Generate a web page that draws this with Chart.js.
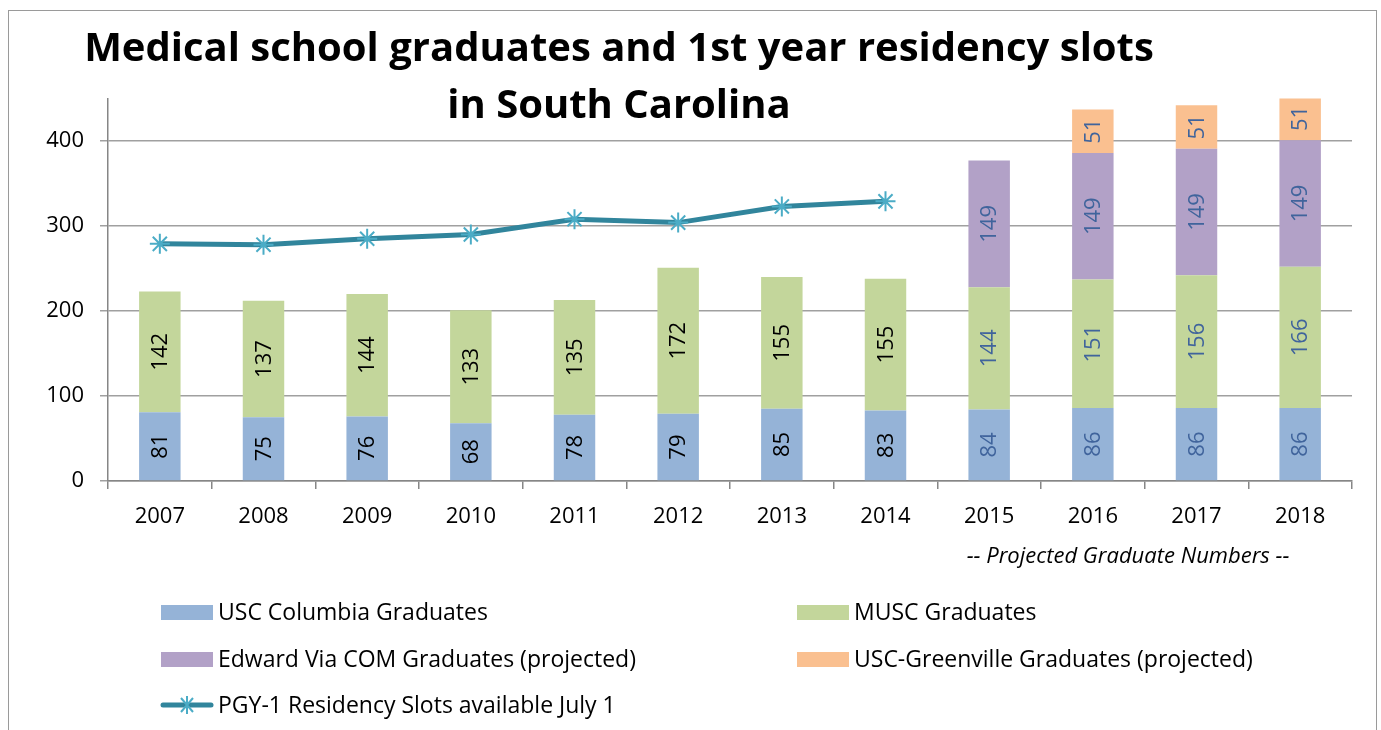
<!DOCTYPE html>
<html>
<head>
<meta charset="utf-8">
<script src="https://cdn.jsdelivr.net/npm/chart.js@4/dist/chart.umd.min.js"></script>
<style>
  html, body { margin: 0; padding: 0; background: #fff; }
  #wrap { width: 1381px; height: 730px; }
</style>
</head>
<body>
<div id="wrap"><canvas id="gradChart" width="1381" height="730"></canvas></div>
<script>
// donnees
const years = ['2007', '2008', '2009', '2010', '2011', '2012', '2013', '2014', '2015', '2016', '2017', '2018'];
const uscColumbia = [81, 75, 76, 68, 78, 79, 85, 83, 84, 86, 86, 86];
const musc = [142, 137, 144, 133, 135, 172, 155, 155, 144, 151, 156, 166];
const edwardVia = [null, null, null, null, null, null, null, null, 149, 149, 149, 149];
const uscGreenville = [null, null, null, null, null, null, null, null, null, 51, 51, 51];
const pgySlots = [279, 278, 285, 290, 308, 304, 323, 329, null, null, null, null];
const yTicks = [0, 100, 200, 300, 400];
const firstProjected = '2015';

const FONT = '"Open Sans", Lato, sans-serif';

// titre, bordure, etiquettes, legende
const decorPlugin = {
    id: 'decor',
    beforeDraw(chart) {
        const ctx = chart.ctx;
        ctx.save();
        ctx.fillStyle = '#fff';
        ctx.fillRect(0, 0, chart.width, chart.height);
        ctx.strokeStyle = '#9a9a9a';
        ctx.lineWidth = 1;
        ctx.strokeRect(8.5, 10.5, 1368, 740);
        ctx.restore();
    },
    afterDraw(chart) {
        const ctx = chart.ctx;
        ctx.save();

        // etiquettes des barres
        ctx.font = '22px ' + FONT;
        ctx.textAlign = 'center';
        ctx.textBaseline = 'middle';
        chart.data.datasets.forEach((ds, di) => {
            if (ds.type === 'line') return;
            const meta = chart.getDatasetMeta(di);
            meta.data.forEach((bar, i) => {
                const v = ds.data[i];
                if (v == null) return;
                const cy = (bar.y + bar.base) / 2;
                ctx.save();
                ctx.translate(bar.x, cy);
                ctx.rotate(-Math.PI / 2);
                ctx.fillStyle = Number(years[i]) >= Number(firstProjected) ? '#40649c' : '#000';
                ctx.fillText(String(v), 0, 1);
                ctx.restore();
            });
        });

        // titre
        ctx.fillStyle = '#000';
        ctx.font = 'bold 40px ' + FONT;
        ctx.textAlign = 'center';
        ctx.textBaseline = 'middle';
        ctx.fillText('Medical school graduates and 1st year residency slots', 619, 50);
        ctx.fillText('in South Carolina', 619, 107);

        // note projetee
        ctx.font = 'italic 22px ' + FONT;
        ctx.fillText('-- Projected Graduate Numbers --', 1128, 557);

        // legende en deux colonnes
        const cols = [161, 797];
        const rows = [612, 659, 705];
        ctx.font = '23px ' + FONT;
        ctx.textAlign = 'left';
        chart.data.datasets.forEach((ds, di) => {
            const x = cols[di % 2];
            const y = rows[Math.floor(di / 2)];
            if (ds.type === 'line') {
                ctx.strokeStyle = ds.borderColor;
                ctx.lineWidth = 5;
                ctx.lineCap = 'round';
                ctx.beginPath();
                ctx.moveTo(x + 2, y);
                ctx.lineTo(x + 50, y);
                ctx.stroke();
                ctx.strokeStyle = ds.pointBorderColor;
                ctx.lineWidth = ds.pointBorderWidth;
                ctx.lineCap = 'butt';
                ctx.beginPath();
                ctx.moveTo(x + 26, y - 9); ctx.lineTo(x + 26, y + 9);
                ctx.moveTo(x + 20, y - 7); ctx.lineTo(x + 32, y + 7);
                ctx.moveTo(x + 32, y - 7); ctx.lineTo(x + 20, y + 7);
                ctx.stroke();
            } else {
                ctx.fillStyle = ds.backgroundColor;
                ctx.fillRect(x, y - 7, 52, 15);
            }
            ctx.fillStyle = '#000';
            ctx.fillText(ds.label, x + 57, y + 1);
        });
        ctx.restore();
    }
};

const ctx = document.getElementById('gradChart').getContext('2d');
const gradChart = new Chart(ctx, {
    data: {
        labels: years,
        datasets: [
            { type: 'bar', label: 'USC Columbia Graduates', data: uscColumbia, backgroundColor: '#95b3d7', order: 2 },
            { type: 'bar', label: 'MUSC Graduates', data: musc, backgroundColor: '#c3d69b', order: 2 },
            { type: 'bar', label: 'Edward Via COM Graduates (projected)', data: edwardVia, backgroundColor: '#b2a1c7', order: 2 },
            { type: 'bar', label: 'USC-Greenville Graduates (projected)', data: uscGreenville, backgroundColor: '#fac090', order: 2 },
            {
                type: 'line', label: 'PGY-1 Residency Slots available July 1', data: pgySlots,
                borderColor: '#31859c', borderWidth: 5, tension: 0,
                pointStyle: 'star', pointRadius: 10, pointBorderColor: '#4bacc6',
                pointBackgroundColor: '#4bacc6', pointBorderWidth: 2, spanGaps: false, order: 1
            }
        ]
    },
    options: {
        responsive: false,
        animation: false,
        devicePixelRatio: 1,
        layout: { padding: { top: 98.5, right: 29, bottom: 189, left: 0 } },
        datasets: { bar: { barPercentage: 0.4, categoryPercentage: 1 } },
        plugins: {
            legend: { display: false },
            title: { display: false },
            tooltip: { enabled: false }
        },
        scales: {
            x: {
                stacked: true,
                offset: true,
                grid: { display: true, drawOnChartArea: false, drawTicks: true, tickLength: 8, color: '#868686', lineWidth: 1.5 },
                border: { color: '#868686', width: 1.5 },
                ticks: { color: '#000', font: { family: FONT, size: 22 }, padding: 15 },
                afterFit(scale) { scale.height = 60; }
            },
            y: {
                stacked: true,
                min: 0,
                max: 450,
                grid: { color: '#a0a0a0', lineWidth: 1.5, tickLength: 8 },
                border: { color: '#868686', width: 1.5 },
                afterBuildTicks(scale) { scale.ticks = yTicks.map(v => ({ value: v })); },
                ticks: { color: '#000', font: { family: FONT, size: 22 }, padding: 16, includeBounds: false },
                afterFit(scale) { scale.width = 108; }
            }
        }
    },
    plugins: [decorPlugin]
});
</script>
</body>
</html>
